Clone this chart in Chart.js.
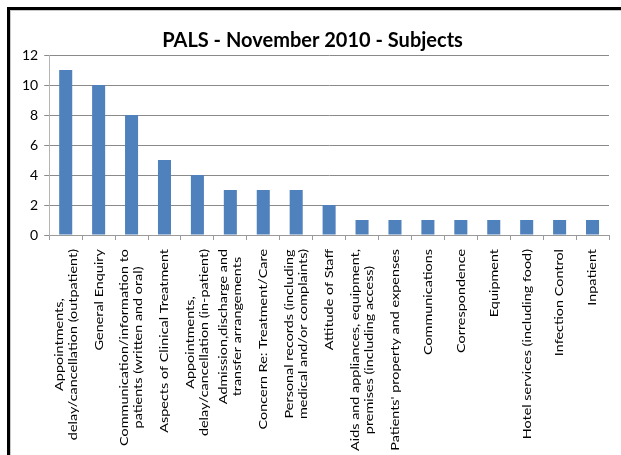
<!DOCTYPE html>
<html>
<head>
<meta charset="utf-8">
<script src="https://cdn.jsdelivr.net/npm/chart.js@4"></script>
<style>
    html, body { margin: 0; padding: 0; background: #fff; }
    #wrap { position: relative; width: 621px; height: 455px; overflow: hidden; }
    #chart { position: absolute; left: 0; top: 0; }
    /* frame of the original picture (only top and left edges are visible) */
    #frame {
        position: absolute; left: 7px; top: 7px; width: 700px; height: 600px;
        border-top: 3px solid #000; border-left: 3px solid #000;
        box-shadow: inset 1px 1px 0 #c8c8c8;
        pointer-events: none;
    }
</style>
</head>
<body>
<div id="wrap">
    <canvas id="chart" width="621" height="455"></canvas>
    <div id="frame"></div>
</div>
<script>
// Dados do gráfico
const subjects = [
    ['Appointments,', 'delay/cancellation (outpatient)'],
    ['General Enquiry'],
    ['Communication/information to', 'patients (written and oral)'],
    ['Aspects of Clinical Treatment'],
    ['Appointments,', 'delay/cancellation (in-patient)'],
    ['Admission,discharge and', 'transfer arrangements'],
    ['Concern Re: Treatment/Care'],
    ['Personal records (including', 'medical and/or complaints)'],
    ['Attitude of Staff'],
    ['Aids and appliances, equipment,', 'premises (including access)'],
    ["Patients' property and expenses"],
    ['Communications'],
    ['Correspondence'],
    ['Equipment'],
    ['Hotel services (including food)'],
    ['Infection Control'],
    ['Inpatient']
];
const counts = [11, 10, 8, 5, 4, 3, 3, 3, 2, 1, 1, 1, 1, 1, 1, 1, 1];
const yTicks = [0, 2, 4, 6, 8, 10, 12];

const FONT = 'Lato, "Open Sans", sans-serif';

/**
 * Desenha os rótulos do eixo X girados (texto esticado na vertical, como no original)
 */
const rotatedLabels = {
    id: 'rotatedLabels',
    afterDraw(chart) {
        const ctx = chart.ctx;
        const xScale = chart.scales.x;
        const lh = 14;
        const stretch = 1.2;
        ctx.save();
        ctx.font = '12px ' + FONT;
        ctx.fillStyle = '#000';
        ctx.textAlign = 'center';
        ctx.textBaseline = 'middle';
        subjects.forEach((lines, i) => {
            const x = xScale.getPixelForValue(i);
            const w = Math.max(...lines.map(l => ctx.measureText(l).width));
            ctx.save();
            ctx.translate(x, xScale.top + 14);
            ctx.scale(1, stretch);
            ctx.rotate(-Math.PI / 2);
            lines.forEach((line, j) => {
                ctx.fillText(line, -w / 2, (j - (lines.length - 1) / 2) * lh);
            });
            ctx.restore();
        });
        ctx.restore();
    }
};

const ctx = document.getElementById('chart');
new Chart(ctx, {
    type: 'bar',
    data: {
        labels: subjects,
        datasets: [{
            label: 'Subjects',
            data: counts,
            backgroundColor: '#4F81BD',
            borderWidth: 0,
            barPercentage: 0.45,
            categoryPercentage: 0.88
        }]
    },
    options: {
        responsive: false,
        animation: false,
        layout: {
            padding: { left: 16, right: 12, top: 8, bottom: 215 }
        },
        plugins: {
            legend: { display: false },
            tooltip: { enabled: false },
            title: {
                display: true,
                text: 'PALS - November 2010 - Subjects',
                color: '#000',
                font: { family: FONT, size: 20, weight: 'bold' },
                padding: { top: 21, bottom: 2 }
            }
        },
        scales: {
            x: {
                ticks: { display: false },
                grid: {
                    offset: true,
                    drawOnChartArea: false,
                    drawTicks: true,
                    tickLength: 5,
                    color: '#9a9a9a'
                },
                border: { color: '#9a9a9a' }
            },
            y: {
                min: 0,
                max: 12,
                afterBuildTicks: axis => {
                    axis.ticks = yTicks.map(v => ({ value: v }));
                },
                ticks: {
                    color: '#000',
                    padding: 6,
                    font: { family: FONT, size: 14 }
                },
                grid: {
                    color: '#8a8a8a',
                    tickLength: 5
                },
                border: { color: '#b4b4b4' }
            }
        }
    },
    plugins: [rotatedLabels]
});
</script>
</body>
</html>
